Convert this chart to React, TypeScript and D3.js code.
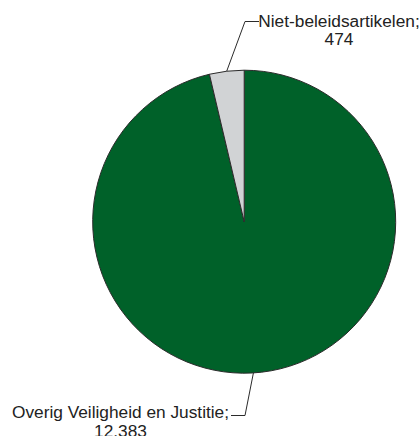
import React from "react";
import * as d3 from "d3";

const categories = ["Overig Veiligheid en Justitie", "Niet-beleidsartikelen"];
const values = [12383, 474];
const valueLabels = ["12.383", "474"];
const colors = ["#006129", "#d1d3d5"];

const W = 420;
const H = 436;
const cx = 244.2;
const cy = 221.7;
const R = 151.5;

export default function App() {
  const pie = d3.pie<number>().sort(null).value((d) => d)(values);
  const arc = d3.arc<d3.PieArcDatum<number>>().innerRadius(0).outerRadius(R);

  // leader layout: angle offset from slice mid, elbow point, end point, text anchor
  const layouts = [
    { angleOffset: 0.055, elbow: [245, 415.5], end: [231, 415.5], tx: 120.5, ty: 417.5, lh: 19.5 },
    { angleOffset: 0, elbow: [245, 21.5], end: [259, 21.5], tx: 339, ty: 26.5, lh: 18 },
  ];

  return (
    <svg
      width={W}
      height={H}
      style={{ position: "absolute", left: 0, top: 0, background: "#fff" }}
      fontFamily="'Liberation Sans', Arial, sans-serif"
    >
      <g transform={`translate(${cx},${cy})`}>
        {pie.map((p, i) => (
          <path key={i} d={arc(p) || ""} fill={colors[i]} stroke="#2b2b2b" strokeWidth={1} />
        ))}
      </g>
      {pie.map((p, i) => {
        const L = layouts[i];
        const a = (p.startAngle + p.endAngle) / 2 + L.angleOffset;
        const ax = cx + R * Math.sin(a);
        const ay = cy - R * Math.cos(a);
        return (
          <g key={"l" + i}>
            <polyline
              points={`${ax},${ay} ${L.elbow[0]},${L.elbow[1]} ${L.end[0]},${L.end[1]}`}
              fill="none"
              stroke="#2b2b2b"
              strokeWidth={1}
            />
            <text x={L.tx} y={L.ty} textAnchor="middle" fontSize={17.3} fill="#222">
              <tspan x={L.tx}>{categories[i]};</tspan>
              <tspan x={L.tx} dy={L.lh}>{valueLabels[i]}</tspan>
            </text>
          </g>
        );
      })}
    </svg>
  );
}
